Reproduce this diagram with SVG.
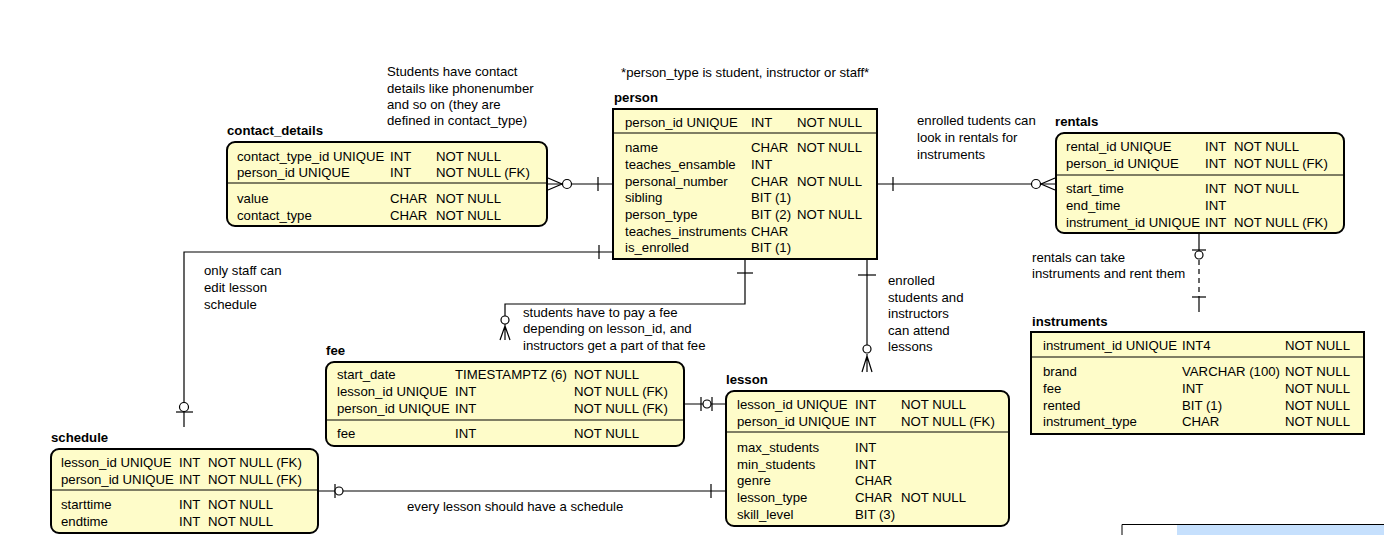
<svg xmlns="http://www.w3.org/2000/svg" width="1384" height="535" viewBox="0 0 1384 535">
<style>
text{font-family:"Liberation Sans",Arial,sans-serif;font-size:13.2px;fill:#000}
.t{font-weight:bold}
.box{fill:#fefcc9;stroke:#000;stroke-width:2}
.div{stroke:#000;stroke-width:1.2}
.c{fill:none;stroke:#000;stroke-width:1.2}
.ci{fill:#fff;stroke:#000;stroke-width:1.2}
</style>
<rect width="1384" height="535" fill="#fff"/>

<g id="connectors">
  <!-- contact_details - person -->
  <line class="c" x1="547" y1="184" x2="613" y2="184"/>
  <path class="c" d="M548,178 L562,184 L548,190"/>
  <circle class="ci" cx="567" cy="184" r="4.5"/>
  <line class="c" x1="598" y1="177" x2="598" y2="191"/>
  <!-- person - rentals -->
  <line class="c" x1="877" y1="184" x2="1056" y2="184"/>
  <line class="c" x1="893" y1="177" x2="893" y2="191"/>
  <path class="c" d="M1055,178 L1041,184 L1055,190"/>
  <circle class="ci" cx="1036" cy="184" r="4.5"/>
  <!-- rentals - instruments -->
  <line class="c" x1="1199" y1="233" x2="1199" y2="251"/>
  <line class="c" x1="1192" y1="250" x2="1206" y2="250"/>
  <circle class="ci" cx="1199" cy="255" r="4"/>
  <line class="c" x1="1199" y1="260" x2="1199" y2="297" stroke-dasharray="5,4"/>
  <line class="c" x1="1192" y1="297" x2="1206" y2="297"/>
  <line class="c" x1="1199" y1="297" x2="1199" y2="312"/>
  <!-- person - lesson -->
  <line class="c" x1="867" y1="259" x2="867" y2="345" stroke-width="1.6"/>
  <line class="c" x1="858" y1="275" x2="876" y2="275"/>
  <circle class="ci" cx="867" cy="349" r="4"/>
  <path class="c" d="M867,354 L867,372 M867,356 L862,372 M867,356 L872,372"/>
  <!-- person - fee -->
  <path class="c" d="M745,259 L745,304 L505,304 L505,316"/>
  <line class="c" x1="737" y1="273" x2="753" y2="273"/>
  <circle class="ci" cx="505" cy="320" r="4"/>
  <path class="c" d="M505,324 L505,340 M505,326 L500,340 M505,326 L510,340"/>
  <!-- person - schedule -->
  <path class="c" d="M613,252 L184,252 L184,427"/>
  <line class="c" x1="599" y1="245" x2="599" y2="259"/>
  <circle class="ci" cx="184" cy="407" r="4.5"/>
  <line class="c" x1="176" y1="412" x2="193" y2="412"/>
  <!-- fee - lesson -->
  <line class="c" x1="684" y1="404" x2="726" y2="404"/>
  <line class="c" x1="701" y1="397" x2="701" y2="411"/>
  <circle class="ci" cx="707" cy="404" r="4"/>
  <line class="c" x1="712" y1="397" x2="712" y2="411"/>
  <!-- schedule - lesson -->
  <line class="c" x1="318" y1="491" x2="726" y2="491"/>
  <line class="c" x1="335" y1="484" x2="335" y2="498"/>
  <circle class="ci" cx="339" cy="491" r="4"/>
  <line class="c" x1="711" y1="484" x2="711" y2="498"/>
</g>

<g id="notes">
  <text x="387" y="76">Students have contact</text>
  <text x="387" y="93">details like phonenumber</text>
  <text x="387" y="109">and so on (they are</text>
  <text x="387" y="125">defined in contact_type)</text>
  <text x="621" y="77">*person_type is student, instructor or staff*</text>
  <text x="917" y="125">enrolled tudents can</text>
  <text x="917" y="142">look in rentals for</text>
  <text x="917" y="159">instruments</text>
  <text x="1032" y="262">rentals can take</text>
  <text x="1032" y="278">instruments and rent them</text>
  <text x="204" y="275">only staff can</text>
  <text x="204" y="292">edit lesson</text>
  <text x="204" y="309">schedule</text>
  <text x="523" y="317">students have to pay a fee</text>
  <text x="523" y="333">depending on lesson_id, and</text>
  <text x="523" y="350">instructors get a part of that fee</text>
  <text x="888" y="285">enrolled</text>
  <text x="888" y="302">students and</text>
  <text x="888" y="318">instructors</text>
  <text x="888" y="335">can attend</text>
  <text x="888" y="351">lessons</text>
  <text x="407" y="511">every lesson should have a schedule</text>
</g>

<g id="contact_details">
  <text class="t" x="227" y="135">contact_details</text>
  <rect class="box" x="227" y="142" width="320" height="84" rx="8"/>
  <line class="div" x1="227" y1="183" x2="547" y2="183"/>
  <text x="237" y="161">contact_type_id UNIQUE</text><text x="390" y="161">INT</text><text x="436" y="161">NOT NULL</text>
  <text x="237" y="177">person_id UNIQUE</text><text x="390" y="177">INT</text><text x="436" y="177">NOT NULL (FK)</text>
  <text x="237" y="203">value</text><text x="390" y="203">CHAR</text><text x="436" y="203">NOT NULL</text>
  <text x="237" y="220">contact_type</text><text x="390" y="220">CHAR</text><text x="436" y="220">NOT NULL</text>
</g>

<g id="person">
  <text class="t" x="614" y="102">person</text>
  <rect class="box" x="613" y="109" width="264" height="150"/>
  <line class="div" x1="613" y1="133" x2="877" y2="133"/>
  <text x="625" y="127">person_id UNIQUE</text><text x="751" y="127">INT</text><text x="797" y="127">NOT NULL</text>
  <text x="625" y="152">name</text><text x="751" y="152">CHAR</text><text x="797" y="152">NOT NULL</text>
  <text x="625" y="169">teaches_ensamble</text><text x="751" y="169">INT</text>
  <text x="625" y="186">personal_number</text><text x="751" y="186">CHAR</text><text x="797" y="186">NOT NULL</text>
  <text x="625" y="202">sibling</text><text x="751" y="202">BIT (1)</text>
  <text x="625" y="219">person_type</text><text x="751" y="219">BIT (2)</text><text x="797" y="219">NOT NULL</text>
  <text x="625" y="236">teaches_instruments</text><text x="751" y="236">CHAR</text>
  <text x="625" y="252">is_enrolled</text><text x="751" y="252">BIT (1)</text>
</g>

<g id="rentals">
  <text class="t" x="1055" y="126">rentals</text>
  <rect class="box" x="1056" y="133" width="288" height="100" rx="8"/>
  <line class="div" x1="1056" y1="175" x2="1344" y2="175"/>
  <text x="1066" y="151">rental_id UNIQUE</text><text x="1205" y="151">INT</text><text x="1234" y="151">NOT NULL</text>
  <text x="1066" y="168">person_id UNIQUE</text><text x="1205" y="168">INT</text><text x="1234" y="168">NOT NULL (FK)</text>
  <text x="1066" y="193">start_time</text><text x="1205" y="193">INT</text><text x="1234" y="193">NOT NULL</text>
  <text x="1066" y="210">end_time</text><text x="1205" y="210">INT</text>
  <text x="1066" y="227">instrument_id UNIQUE</text><text x="1205" y="227">INT</text><text x="1234" y="227">NOT NULL (FK)</text>
</g>

<g id="instruments">
  <text class="t" x="1032" y="326">instruments</text>
  <rect class="box" x="1031" y="332" width="333" height="102"/>
  <line class="div" x1="1031" y1="357" x2="1364" y2="357"/>
  <text x="1043" y="350">instrument_id UNIQUE</text><text x="1182" y="350">INT4</text><text x="1285" y="350">NOT NULL</text>
  <text x="1043" y="376">brand</text><text x="1182" y="376">VARCHAR (100)</text><text x="1285" y="376">NOT NULL</text>
  <text x="1043" y="393">fee</text><text x="1182" y="393">INT</text><text x="1285" y="393">NOT NULL</text>
  <text x="1043" y="410">rented</text><text x="1182" y="410">BIT (1)</text><text x="1285" y="410">NOT NULL</text>
  <text x="1043" y="426">instrument_type</text><text x="1182" y="426">CHAR</text><text x="1285" y="426">NOT NULL</text>
</g>

<g id="fee">
  <text class="t" x="326" y="355">fee</text>
  <rect class="box" x="326" y="362" width="358" height="84" rx="8"/>
  <line class="div" x1="326" y1="420" x2="684" y2="420"/>
  <text x="337" y="379">start_date</text><text x="455" y="379">TIMESTAMPTZ (6)</text><text x="574" y="379">NOT NULL</text>
  <text x="337" y="396">lesson_id UNIQUE</text><text x="455" y="396">INT</text><text x="574" y="396">NOT NULL (FK)</text>
  <text x="337" y="413">person_id UNIQUE</text><text x="455" y="413">INT</text><text x="574" y="413">NOT NULL (FK)</text>
  <text x="337" y="438">fee</text><text x="455" y="438">INT</text><text x="574" y="438">NOT NULL</text>
</g>

<g id="lesson">
  <text class="t" x="726" y="384">lesson</text>
  <rect class="box" x="726" y="391" width="283" height="135" rx="8"/>
  <line class="div" x1="726" y1="432" x2="1009" y2="432"/>
  <text x="737" y="409">lesson_id UNIQUE</text><text x="855" y="409">INT</text><text x="901" y="409">NOT NULL</text>
  <text x="737" y="426">person_id UNIQUE</text><text x="855" y="426">INT</text><text x="901" y="426">NOT NULL (FK)</text>
  <text x="737" y="452">max_students</text><text x="855" y="452">INT</text>
  <text x="737" y="469">min_students</text><text x="855" y="469">INT</text>
  <text x="737" y="485">genre</text><text x="855" y="485">CHAR</text>
  <text x="737" y="502">lesson_type</text><text x="855" y="502">CHAR</text><text x="901" y="502">NOT NULL</text>
  <text x="737" y="519">skill_level</text><text x="855" y="519">BIT (3)</text>
</g>

<g id="schedule">
  <text class="t" x="51" y="442">schedule</text>
  <rect class="box" x="51" y="449" width="267" height="84" rx="8"/>
  <line class="div" x1="51" y1="490" x2="318" y2="490"/>
  <text x="61" y="467">lesson_id UNIQUE</text><text x="179" y="467">INT</text><text x="208" y="467">NOT NULL (FK)</text>
  <text x="61" y="484">person_id UNIQUE</text><text x="179" y="484">INT</text><text x="208" y="484">NOT NULL (FK)</text>
  <text x="61" y="509">starttime</text><text x="179" y="509">INT</text><text x="208" y="509">NOT NULL</text>
  <text x="61" y="526">endtime</text><text x="179" y="526">INT</text><text x="208" y="526">NOT NULL</text>
</g>

<g id="corner">
  <rect x="1177" y="525" width="207" height="10" fill="#c6e0fd"/>
  <path d="M1122,535 L1122,524.5 L1384,524.5" fill="none" stroke="#000" stroke-width="1"/>
</g>
</svg>
